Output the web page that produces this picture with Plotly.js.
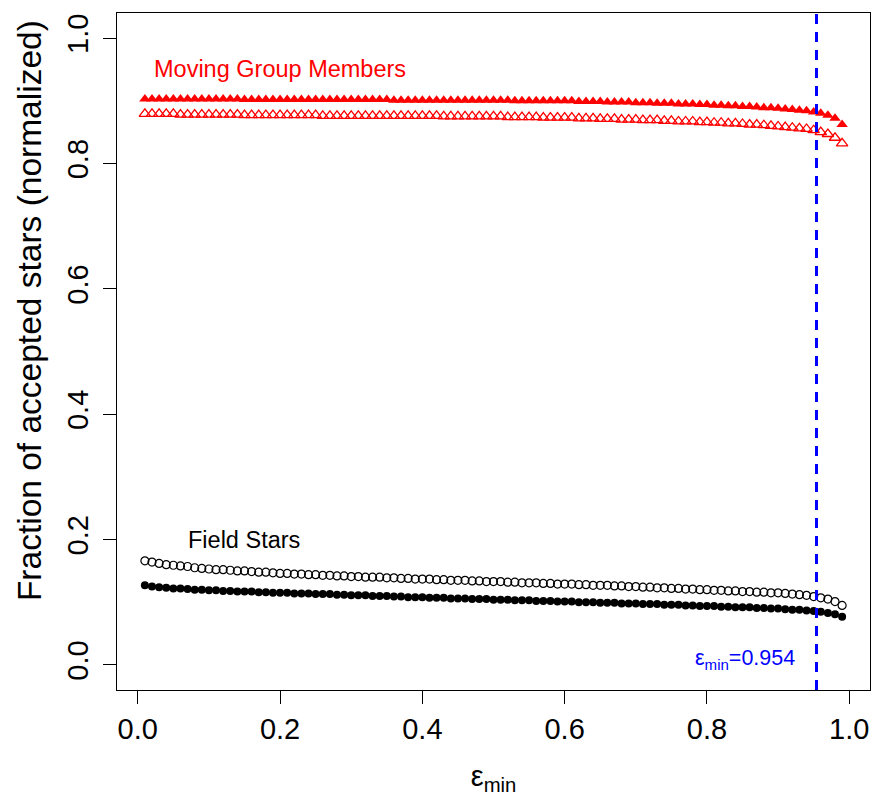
<!DOCTYPE html>
<html>
<head>
<meta charset="utf-8">
<script src="https://cdn.plot.ly/plotly-3.0.1.min.js"></script>
<style>html,body{margin:0;padding:0;background:#fff;}#chart{width:872px;height:796px;}</style>
</head>
<body>
<div id="chart"></div>
<script>
// epsilon_min grid
const epsMin = [
0.01,0.02,0.03,0.04,0.05,0.06,0.07,0.08,0.09,0.10,
0.11,0.12,0.13,0.14,0.15,0.16,0.17,0.18,0.19,0.20,
0.21,0.22,0.23,0.24,0.25,0.26,0.27,0.28,0.29,0.30,
0.31,0.32,0.33,0.34,0.35,0.36,0.37,0.38,0.39,0.40,
0.41,0.42,0.43,0.44,0.45,0.46,0.47,0.48,0.49,0.50,
0.51,0.52,0.53,0.54,0.55,0.56,0.57,0.58,0.59,0.60,
0.61,0.62,0.63,0.64,0.65,0.66,0.67,0.68,0.69,0.70,
0.71,0.72,0.73,0.74,0.75,0.76,0.77,0.78,0.79,0.80,
0.81,0.82,0.83,0.84,0.85,0.86,0.87,0.88,0.89,0.90,
0.91,0.92,0.93,0.94,0.95,0.96,0.97,0.98,0.99];

// Moving group members, filled triangles
const movingFilled = [
0.903,0.903,0.903,0.903,0.903,0.903,0.903,0.903,0.903,0.903,
0.903,0.903,0.903,0.903,0.902,0.902,0.902,0.902,0.902,0.902,
0.902,0.902,0.902,0.902,0.902,0.902,0.902,0.902,0.902,0.902,
0.902,0.902,0.902,0.902,0.902,0.901,0.901,0.901,0.901,0.901,
0.901,0.901,0.901,0.901,0.901,0.901,0.901,0.901,0.901,0.901,
0.901,0.901,0.900,0.900,0.900,0.900,0.900,0.900,0.900,0.900,
0.900,0.899,0.899,0.899,0.899,0.898,0.898,0.898,0.898,0.897,
0.897,0.897,0.896,0.896,0.896,0.895,0.895,0.895,0.894,0.894,
0.893,0.893,0.892,0.892,0.891,0.891,0.890,0.889,0.889,0.888,
0.887,0.886,0.885,0.884,0.882,0.880,0.877,0.872,0.862];

// Moving group members, open triangles
const movingOpen = [
0.879,0.879,0.879,0.879,0.879,0.878,0.878,0.878,0.878,0.878,
0.878,0.878,0.878,0.878,0.877,0.877,0.877,0.877,0.877,0.877,
0.877,0.877,0.877,0.877,0.877,0.876,0.876,0.876,0.876,0.876,
0.876,0.876,0.876,0.876,0.876,0.876,0.876,0.876,0.876,0.876,
0.876,0.876,0.875,0.875,0.875,0.875,0.875,0.875,0.875,0.875,
0.875,0.874,0.874,0.874,0.874,0.874,0.873,0.873,0.873,0.873,
0.873,0.872,0.872,0.872,0.871,0.871,0.871,0.870,0.870,0.870,
0.869,0.869,0.869,0.868,0.868,0.867,0.867,0.867,0.866,0.866,
0.865,0.865,0.864,0.864,0.863,0.862,0.862,0.861,0.860,0.859,
0.858,0.857,0.856,0.855,0.853,0.850,0.847,0.841,0.832];

// Field stars, open circles
const fieldOpen = [
0.166,0.164,0.162,0.160,0.159,0.158,0.157,0.155,0.154,0.153,
0.152,0.152,0.151,0.150,0.150,0.149,0.148,0.148,0.147,0.146,
0.146,0.145,0.145,0.144,0.144,0.143,0.143,0.142,0.142,0.141,
0.141,0.140,0.140,0.140,0.139,0.139,0.138,0.138,0.137,0.137,
0.137,0.136,0.136,0.135,0.135,0.135,0.134,0.134,0.133,0.133,
0.133,0.132,0.132,0.131,0.131,0.131,0.130,0.130,0.129,0.129,
0.129,0.128,0.128,0.127,0.127,0.127,0.126,0.126,0.125,0.125,
0.124,0.124,0.123,0.123,0.122,0.122,0.121,0.121,0.120,0.120,
0.119,0.119,0.118,0.118,0.117,0.117,0.116,0.116,0.115,0.115,
0.114,0.113,0.112,0.111,0.109,0.107,0.105,0.101,0.095];

// Field stars, filled circles
const fieldFilled = [
0.127,0.125,0.124,0.123,0.122,0.122,0.121,0.120,0.120,0.119,
0.119,0.118,0.118,0.117,0.117,0.117,0.116,0.116,0.115,0.115,
0.115,0.114,0.114,0.114,0.113,0.113,0.113,0.112,0.112,0.111,
0.111,0.111,0.110,0.110,0.110,0.109,0.109,0.108,0.108,0.108,
0.107,0.107,0.107,0.106,0.106,0.106,0.105,0.105,0.105,0.104,
0.104,0.104,0.103,0.103,0.103,0.102,0.102,0.102,0.101,0.101,
0.101,0.100,0.100,0.100,0.099,0.099,0.099,0.098,0.098,0.098,
0.097,0.097,0.097,0.096,0.096,0.096,0.095,0.095,0.094,0.094,
0.094,0.093,0.093,0.092,0.092,0.092,0.091,0.091,0.090,0.090,
0.089,0.088,0.088,0.087,0.086,0.085,0.083,0.081,0.077];

const threshold = [0.954];
const tickVals = [0, 0.2, 0.4, 0.6, 0.8, 1.0];
const tickText = ["0.0", "0.2", "0.4", "0.6", "0.8", "1.0"];
const labels = ["Moving Group Members", "Field Stars", "ε<sub>min</sub>=0.954"];
const axisTitles = ["ε<sub>min</sub>", "Fraction of accepted stars (normalized)"];

const FONT = "'Liberation Sans', Arial, Helvetica, sans-serif";

const traces = [
  {x: epsMin, y: movingOpen, type: 'scatter', mode: 'markers',
   marker: {symbol: 'triangle-up-open', size: 10, color: '#ff0000', line: {width: 1.3, color: '#ff0000'}}},
  {x: epsMin, y: movingFilled, type: 'scatter', mode: 'markers',
   marker: {symbol: 'triangle-up', size: 10, color: '#ff0000', line: {width: 0}}},
  {x: epsMin, y: fieldOpen, type: 'scatter', mode: 'markers',
   marker: {symbol: 'circle-open', size: 8, color: '#000000', line: {width: 1.2, color: '#000000'}}},
  {x: epsMin, y: fieldFilled, type: 'scatter', mode: 'markers',
   marker: {symbol: 'circle', size: 8, color: '#000000', line: {width: 0}}}
];

const layout = {
  width: 872, height: 796,
  margin: {l: 117, r: 2, t: 13, b: 106, pad: 0},
  paper_bgcolor: '#ffffff', plot_bgcolor: '#ffffff',
  showlegend: false,
  font: {family: FONT, color: '#000000'},
  xaxis: {
    range: [-0.0292, 1.0292], showgrid: false, zeroline: false,
    showline: true, mirror: true, linecolor: '#000', linewidth: 1,
    ticks: 'outside', ticklen: 13, tickwidth: 1, tickcolor: '#000',
    tickvals: tickVals, ticktext: tickText,
    tickfont: {size: 29, family: FONT},
    title: {text: axisTitles[0], font: {size: 29, family: FONT}, standoff: 22}
  },
  yaxis: {
    range: [-0.04, 1.04], showgrid: false, zeroline: false,
    showline: true, mirror: true, linecolor: '#000', linewidth: 1,
    ticks: 'outside', ticklen: 13, tickwidth: 1, tickcolor: '#000',
    tickvals: tickVals, ticktext: tickText, tickangle: -90,
    ticklabelstandoff: 3,
    tickfont: {size: 29, family: FONT}
  },
  shapes: [{
    type: 'line', xref: 'x', yref: 'paper', x0: threshold[0], x1: threshold[0], y0: 0, y1: 1,
    line: {color: '#0000ff', width: 3, dash: '10px,8px'}
  }],
  annotations: [
    {x: 0.2, y: 0.95, xref: 'x', yref: 'y', text: labels[0], showarrow: false,
     font: {size: 23.5, color: '#ff0000', family: FONT}},
    {x: 0.15, y: 0.2, xref: 'x', yref: 'y', text: labels[1], showarrow: false,
     font: {size: 23.5, color: '#000000', family: FONT}},
    {x: 0.853, y: 0.008, xref: 'x', yref: 'y', text: labels[2], showarrow: false,
     font: {size: 21.5, color: '#0000ff', family: FONT}},
    {x: -0.117, y: 0.561, xref: 'paper', yref: 'paper', text: axisTitles[1], showarrow: false,
     textangle: -90, xanchor: 'center', yanchor: 'middle',
     font: {size: 33.5, color: '#000000', family: FONT}}
  ]
};

Plotly.newPlot('chart', traces, layout, {displayModeBar: false, staticPlot: true});
</script>
</body>
</html>
